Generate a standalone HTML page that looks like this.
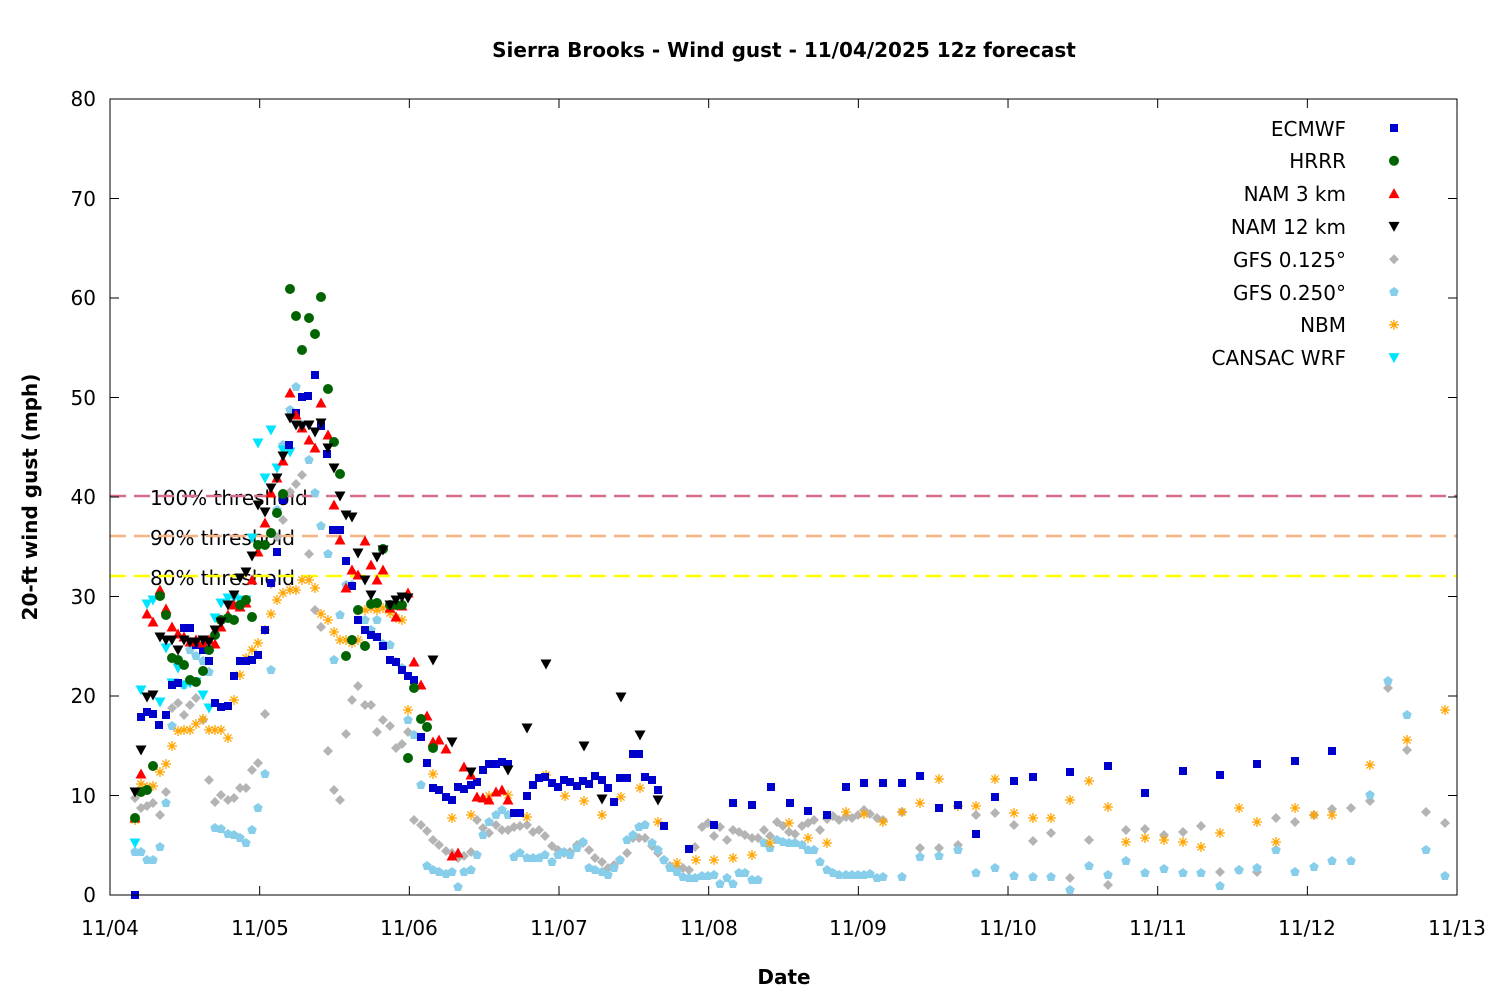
<!DOCTYPE html>
<html><head><meta charset="utf-8"><style>
body{margin:0;background:#fff}
svg text{font-family:"DejaVu Sans","Liberation Sans",sans-serif;fill:#000}
</style></head><body>
<svg id="s" width="1500" height="1000" xmlns="http://www.w3.org/2000/svg">
<rect width="1500" height="1000" fill="#fff"/>
<text x="784" y="57" font-size="20" font-weight="bold" text-anchor="middle">Sierra Brooks - Wind gust - 11/04/2025 12z forecast</text>
<g font-size="20" text-anchor="end">
<text x="96" y="902">0</text><text x="96" y="803">10</text><text x="96" y="703">20</text><text x="96" y="604">30</text><text x="96" y="504">40</text><text x="96" y="405">50</text><text x="96" y="305">60</text><text x="96" y="206">70</text><text x="96" y="106">80</text>
</g>
<g font-size="20" text-anchor="middle">
<text x="110" y="935">11/04</text><text x="260" y="935">11/05</text><text x="409" y="935">11/06</text><text x="559" y="935">11/07</text><text x="709" y="935">11/08</text><text x="858" y="935">11/09</text><text x="1008" y="935">11/10</text><text x="1158" y="935">11/11</text><text x="1307" y="935">11/12</text><text x="1457" y="935">11/13</text>
</g>
<text x="784" y="984" font-size="20" font-weight="bold" text-anchor="middle">Date</text>
<text transform="translate(37,497) rotate(-90)" font-size="20" font-weight="bold" text-anchor="middle">20-ft wind gust (mph)</text>
<g font-size="20">
<text x="150" y="505">100% threshold</text>
<text x="150" y="545">90% threshold</text>
<text x="150" y="585">80% threshold</text>
</g>
<g stroke-width="2.5" stroke-dasharray="16,8">
<line x1="110" x2="1457" y1="496" y2="496" stroke="#d6708a"/>
<line x1="110" x2="1457" y1="536" y2="536" stroke="#f6b485"/>
<line x1="110" x2="1457" y1="576" y2="576" stroke="#ffff00"/>
</g>
<g id="pts"></g>
<rect x="110" y="99" width="1347" height="796" fill="none" stroke="#000" stroke-width="1"/>
<g stroke="#000" stroke-width="1" id="ticks"></g>
<g font-size="20" text-anchor="end">
<text x="1346" y="136">ECMWF</text><text x="1346" y="168">HRRR</text><text x="1346" y="201">NAM 3 km</text><text x="1346" y="234">NAM 12 km</text><text x="1346" y="267">GFS 0.125°</text><text x="1346" y="300">GFS 0.250°</text><text x="1346" y="332">NBM</text><text x="1346" y="365">CANSAC WRF</text>
</g>
</svg>
<script>
var NS="http://www.w3.org/2000/svg",g=document.getElementById('pts'),tk=document.getElementById('ticks');
function el(n,a){var e=document.createElementNS(NS,n);for(var k in a)e.setAttribute(k,a[k]);return e;}
for(var i=0;i<=8;i++){var y=895-i*99.5;tk.appendChild(el('line',{x1:110,x2:119,y1:y,y2:y}));tk.appendChild(el('line',{x1:1457,x2:1448,y1:y,y2:y}));}
for(var i=0;i<=9;i++){var x=110+i*149.67;tk.appendChild(el('line',{x1:x,x2:x,y1:895,y2:886}));tk.appendChild(el('line',{x1:x,x2:x,y1:99,y2:108}));}
function P(s){var a=s.split(/[ ,]+/).map(Number),r=[];for(var i=0;i+1<a.length;i+=2)r.push([a[i],a[i+1]]);return r;}
function mk(t,x,y,c){
 if(t=='sq')g.appendChild(el('rect',{x:x-4,y:y-4,width:8,height:8,fill:c}));
 else if(t=='ci')g.appendChild(el('circle',{cx:x,cy:y,r:5,fill:c}));
 else if(t=='up')g.appendChild(el('polygon',{points:(x-5.5)+','+(y+4.5)+' '+(x+5.5)+','+(y+4.5)+' '+x+','+(y-5.5),fill:c}));
 else if(t=='dn')g.appendChild(el('polygon',{points:(x-5.5)+','+(y-4.5)+' '+(x+5.5)+','+(y-4.5)+' '+x+','+(y+5.5),fill:c}));
 else if(t=='di')g.appendChild(el('polygon',{points:x+','+(y-5)+' '+(x+5)+','+y+' '+x+','+(y+5)+' '+(x-5)+','+y,fill:c}));
 else if(t=='pe'){var p=[];for(var k=0;k<5;k++){var a=-Math.PI/2+k*2*Math.PI/5;p.push((x+5*Math.cos(a))+','+(y+5*Math.sin(a)));}g.appendChild(el('polygon',{points:p.join(' '),fill:c}));}
 else if(t=='st'){var d='';for(var k=0;k<4;k++){var a=k*Math.PI/4;d+='M'+(x-5*Math.cos(a))+' '+(y-5*Math.sin(a))+'L'+(x+5*Math.cos(a))+' '+(y+5*Math.sin(a));}g.appendChild(el('path',{d:d,stroke:c,'stroke-width':1.3,fill:'none'}));}
}
var S=[
['di','#b4b4b4',"135,798 141,808 147,806 153,803 160,815 166,792 172,708 178,703 184,715 190,705 196,698 203,720 209,780 215,802 221,795 228,800 234,798 240,788 246,788 252,770 258,763 265,714 271,584 277,537 283,520 290,492 296,484 302,475 309,554 315,610 321,627 328,751 334,790 340,800 346,734 352,700 358,686 365,705 371,705 377,732 383,720 390,726 396,748 402,744 408,732 414,820 421,825 427,831 433,840 439,845 446,851 452,853 458,858 464,856 471,852 477,820 483,828 489,833 496,825 502,830 508,830 514,827 520,826 527,825 533,832 539,830 545,836 552,846 558,850 564,853 570,852 577,845 583,843 589,850 595,858 602,862 608,868 614,865 620,860 627,853 633,838 639,838 645,838 652,846 658,853 664,860 670,866 677,867 683,868 689,870 695,847 702,827 708,823 714,836 720,827 727,840 733,830 739,832 745,835 752,838 758,838 764,830 770,836 777,822 783,826 789,832 795,834 802,826 808,823 814,820 820,830 827,819 833,816 839,820 846,817 852,818 858,815 864,810 870,814 877,818 883,820 902,812 920,848 939,848 958,845 976,815 995,813 1014,825 1033,841 1051,833 1070,878 1089,840 1108,885 1126,830 1145,829 1164,835 1183,832 1201,826 1220,872 1239,870 1257,872 1276,818 1295,822 1314,815 1332,809 1351,808 1370,801 1388,688 1407,750 1426,812 1445,823"],
['pe','#87ceeb',"135,852 141,852 147,860 153,860 160,847 166,803 172,726 178,683 184,685 190,650 196,656 203,661 209,672 215,828 221,829 228,834 234,835 240,838 246,843 252,830 258,808 265,774 271,670 277,510 283,445 290,410 296,387 302,425 309,460 315,493 321,526 328,554 334,660 340,615 346,585 352,585 358,610 365,620 371,630 377,620 383,644 390,645 396,662 402,668 408,720 414,735 421,785 427,866 433,870 439,872 446,874 452,872 458,887 464,872 471,870 477,855 483,835 489,822 496,815 502,810 508,815 514,857 520,853 527,858 533,858 539,858 545,855 552,862 558,855 564,852 570,855 577,848 583,842 589,868 595,870 602,872 608,875 614,868 620,860 627,840 633,835 639,827 645,825 652,843 658,850 664,860 670,868 677,872 683,877 689,878 695,878 702,876 708,876 714,875 720,884 727,878 733,884 739,873 745,873 752,880 758,880 764,843 770,848 777,840 783,842 789,843 795,843 802,845 808,850 814,850 820,862 827,870 833,873 839,875 846,875 852,875 858,875 864,875 870,874 877,878 883,877 902,877 920,857 939,856 958,850 976,873 995,868 1014,876 1033,877 1051,877 1070,890 1089,866 1108,875 1126,861 1145,873 1164,869 1183,873 1201,873 1220,886 1239,870 1257,868 1276,850 1295,872 1314,867 1332,861 1351,861 1370,795 1388,681 1407,715 1426,850 1445,876"],
['st','#ffa500',"135,820 141,784 147,787 153,786 160,772 166,764 172,746 178,731 184,730 190,730 196,724 203,719 209,730 215,730 221,730 228,738 234,700 240,675 246,658 252,650 258,643 265,630 271,614 277,600 283,593 290,590 296,590 302,580 309,580 315,588 321,614 328,620 334,632 340,640 346,640 352,643 358,640 365,610 371,608 377,610 383,608 390,613 396,618 402,620 408,710 433,774 452,818 471,815 489,796 508,795 527,817 546,775 565,796 584,801 602,815 621,797 640,788 658,822 677,863 696,860 714,860 733,858 752,855 770,843 789,823 808,838 827,843 846,812 864,814 883,822 902,812 920,803 939,779 958,806 976,806 995,779 1014,813 1033,818 1051,818 1070,800 1089,781 1108,807 1126,842 1145,838 1164,840 1183,842 1201,847 1220,833 1239,808 1257,822 1276,842 1295,808 1314,815 1332,815 1370,765 1407,740 1445,710"],
['dn','#00e5ff',"135,843 141,690 147,604 153,600 160,702 166,648 172,683 178,668 184,685 190,683 196,682 203,695 209,708 215,618 221,603 228,598 234,598 240,600 246,600 252,538 258,443 265,478 271,430 277,468 283,450 290,452"],
['sq','#0000cc',"135,895 141,717 147,712 153,714 159,725 166,715 172,685 178,683 184,628 190,628 196,645 203,650 209,661 215,703 221,707 228,706 234,676 240,661 246,661 252,660 258,655 265,630 271,583 277,552 283,500 289,445 296,413 302,397 308,396 315,375 321,426 327,454 333,530 340,530 346,561 352,586 358,620 365,630 371,635 377,637 383,646 390,660 396,662 402,670 408,676 414,680 421,737 427,763 433,788 439,790 446,797 452,800 458,787 464,789 471,785 477,782 483,770 489,764 496,764 502,762 508,764 514,813 520,813 527,796 533,785 539,778 545,777 552,783 558,787 564,780 570,782 577,786 583,781 589,784 595,776 602,780 608,788 614,802 620,778 627,778 633,754 639,754 645,777 652,780 658,790 664,826 689,849 714,825 733,803 752,805 771,787 790,803 808,811 827,815 846,787 864,783 883,783 902,783 920,776 939,808 958,805 976,834 995,797 1014,781 1033,777 1070,772 1108,766 1145,793 1183,771 1220,775 1257,764 1295,761 1332,751"],
['up','#ff0000',"135,818 141,774 147,614 153,622 160,590 166,609 172,627 178,634 184,637 190,642 196,640 203,643 209,640 215,644 221,627 228,615 234,605 240,607 246,603 252,580 258,552 265,523 271,493 277,478 283,461 290,393 296,415 302,428 309,440 315,448 321,403 328,435 334,505 340,540 346,588 352,570 358,575 365,541 371,565 377,580 383,570 390,608 396,617 402,606 408,593 414,662 421,685 427,716 433,742 439,740 446,749 452,856 458,853 464,767 471,775 477,797 483,798 489,800 496,792 502,790 508,800"],
['ci','#006400',"135,818 141,792 147,790 153,766 160,596 166,615 172,658 178,660 184,665 190,680 196,682 203,671 209,650 215,635 221,620 228,618 234,620 240,605 246,600 252,617 258,545 265,545 271,533 277,513 283,494 290,289 296,316 302,350 309,318 315,334 321,297 328,389 334,442 340,474 346,656 352,640 358,610 365,646 371,604 377,603 383,549 390,605 396,605 402,605 408,758 414,688 421,719 427,727 433,748"],
['dn','#000000',"135,792 141,750 147,697 153,695 160,637 166,640 172,640 178,650 184,640 190,642 196,642 203,640 209,642 215,630 221,622 228,605 234,595 240,578 246,572 252,556 258,505 265,512 271,488 277,478 283,456 290,418 296,425 302,426 309,425 315,432 321,423 328,448 334,468 340,496 346,515 352,517 358,553 365,580 371,595 377,557 383,550 390,605 396,600 402,597 408,598 433,660 452,742 471,772 508,770 527,728 546,664 584,746 602,799 621,697 640,735 658,800"]
];
S.forEach(function(s){P(s[2]).forEach(function(p){mk(s[0],p[0],p[1],s[1]);});});
var L=[['sq','#0000cc'],['ci','#006400'],['up','#ff0000'],['dn','#000000'],['di','#b4b4b4'],['pe','#87ceeb'],['st','#ffa500'],['dn','#00e5ff']];
L.forEach(function(l,i){mk(l[0],1394,128+i*32.8,l[1]);});
</script>
</body></html>
